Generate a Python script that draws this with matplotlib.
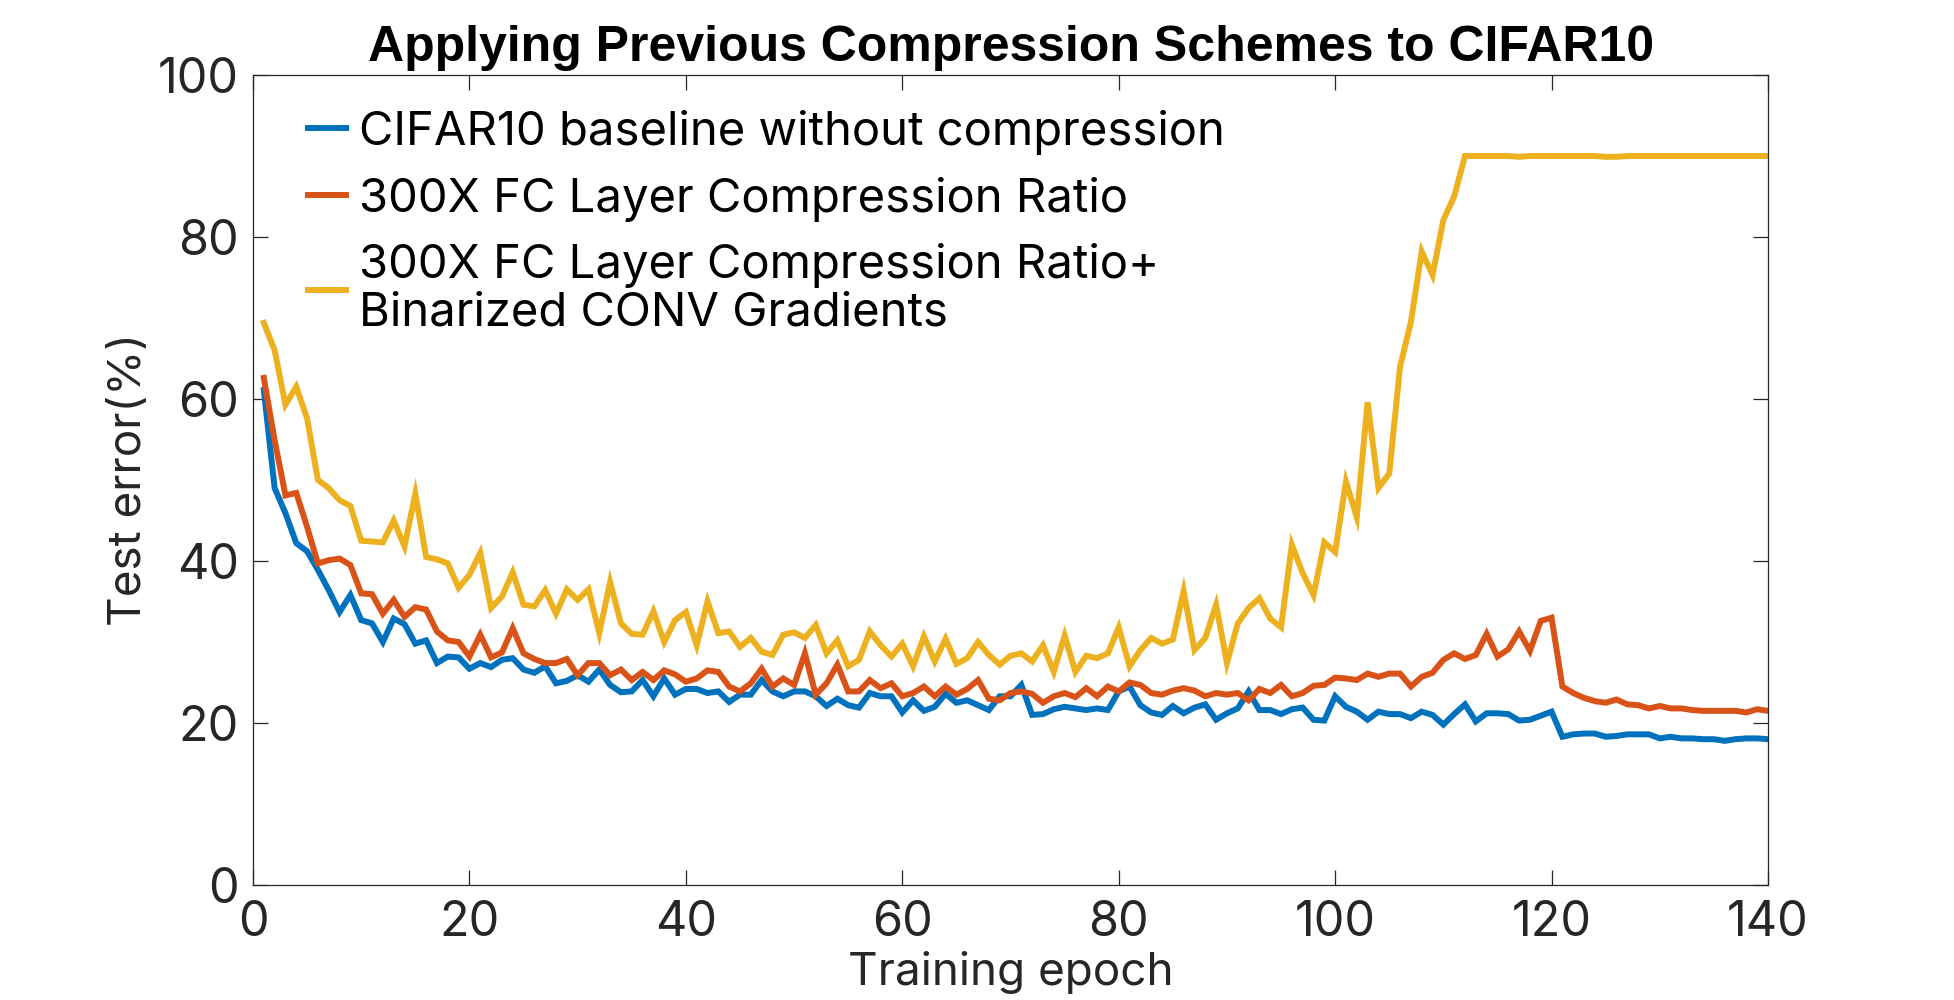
import numpy as np
import matplotlib
matplotlib.use("Agg")
import matplotlib.pyplot as plt

epochs = list(range(1, 141))

baseline = [
    61.1, 49.0, 45.9, 42.2, 41.2, 38.9, 36.4, 33.7, 35.8, 32.7,
    32.3, 30.0, 32.9, 32.2, 29.8, 30.2, 27.4, 28.2, 28.1, 26.7,
    27.4, 26.9, 27.8, 28.0, 26.6, 26.2, 27.0, 24.9, 25.2, 25.9,
    25.1, 26.6, 24.7, 23.8, 23.9, 25.3, 23.3, 25.5, 23.5, 24.2,
    24.2, 23.7, 23.9, 22.6, 23.5, 23.5, 25.3, 23.9, 23.3, 23.9,
    23.9, 23.3, 22.1, 23.0, 22.2, 21.9, 23.7, 23.3, 23.3, 21.3,
    22.8, 21.5, 22.0, 23.6, 22.5, 22.8, 22.2, 21.6, 23.3, 23.3,
    24.7, 21.0, 21.1, 21.7, 22.0, 21.8, 21.6, 21.8, 21.6, 23.9,
    24.5, 22.2, 21.3, 21.0, 22.1, 21.2, 21.9, 22.3, 20.4, 21.2,
    21.8, 23.9, 21.6, 21.6, 21.1, 21.7, 21.9, 20.4, 20.3, 23.3,
    22.0, 21.4, 20.4, 21.4, 21.1, 21.1, 20.6, 21.4, 21.0, 19.8,
    21.1, 22.3, 20.2, 21.2, 21.2, 21.1, 20.3, 20.4, 20.9, 21.4,
    18.3, 18.6, 18.7, 18.7, 18.3, 18.4, 18.6, 18.6, 18.6, 18.1,
    18.3, 18.1, 18.1, 18.0, 18.0, 17.8, 18.0, 18.1, 18.1, 18.0,
]

fc300 = [
    62.6, 54.9, 48.1, 48.4, 44.2, 39.7, 40.1, 40.3, 39.5, 36.0,
    35.9, 33.5, 35.2, 33.1, 34.3, 34.0, 31.3, 30.2, 30.0, 28.2,
    30.9, 28.1, 28.7, 31.7, 28.6, 27.9, 27.4, 27.4, 27.9, 25.9,
    27.4, 27.4, 25.9, 26.6, 25.3, 26.3, 25.3, 26.5, 26.0, 25.1,
    25.5, 26.5, 26.3, 24.5, 23.9, 24.9, 26.7, 24.5, 25.5, 24.7,
    28.6, 23.5, 24.9, 27.2, 23.9, 23.9, 25.3, 24.3, 24.9, 23.3,
    23.7, 24.5, 23.3, 24.5, 23.5, 24.2, 25.3, 23.0, 22.8, 23.7,
    23.9, 23.6, 22.5, 23.3, 23.7, 23.2, 24.3, 23.3, 24.5, 23.9,
    25.0, 24.7, 23.7, 23.5, 24.0, 24.3, 24.0, 23.3, 23.7, 23.5,
    23.7, 22.8, 24.2, 23.7, 24.7, 23.3, 23.7, 24.6, 24.7, 25.6,
    25.5, 25.3, 26.1, 25.7, 26.1, 26.1, 24.5, 25.7, 26.2, 27.8,
    28.6, 27.9, 28.4, 31.0, 28.2, 29.1, 31.3, 28.9, 32.6, 33.0,
    24.5, 23.7, 23.1, 22.7, 22.5, 22.9, 22.3, 22.2, 21.8, 22.1,
    21.8, 21.8, 21.6, 21.5, 21.5, 21.5, 21.5, 21.3, 21.7, 21.5,
]

fc300_bin = [
    69.4, 66.0, 59.3, 61.5, 57.6, 50.0, 49.0, 47.5, 46.8, 42.5,
    42.4, 42.3, 45.0, 41.8, 48.3, 40.5, 40.2, 39.7, 36.7, 38.3,
    41.0, 34.2, 35.6, 38.6, 34.6, 34.4, 36.4, 33.5, 36.5, 35.2,
    36.5, 31.1, 37.4, 32.3, 31.0, 30.9, 33.8, 30.0, 32.7, 33.7,
    29.6, 35.0, 31.1, 31.3, 29.4, 30.5, 28.8, 28.4, 30.9, 31.2,
    30.5, 32.1, 28.6, 30.2, 27.0, 27.8, 31.3, 29.6, 28.2, 29.8,
    27.0, 30.7, 27.6, 30.4, 27.3, 28.0, 30.0, 28.4, 27.2, 28.3,
    28.6, 27.6, 29.6, 26.3, 30.8, 26.3, 28.3, 28.0, 28.6, 31.8,
    27.0, 29.0, 30.5, 29.8, 30.3, 36.3, 29.0, 30.5, 34.6, 27.4,
    32.3, 34.2, 35.4, 32.9, 31.8, 42.0, 38.5, 35.8, 42.3, 41.1,
    49.8, 45.4, 59.6, 49.0, 50.8, 64.0, 69.5, 78.2, 75.3, 82.1,
    85.0, 90.0, 90.0, 90.0, 90.0, 90.0, 89.9, 90.0, 90.0, 90.0,
    90.0, 90.0, 90.0, 90.0, 89.9, 89.9, 90.0, 90.0, 90.0, 90.0,
    90.0, 90.0, 90.0, 90.0, 90.0, 90.0, 90.0, 90.0, 90.0, 90.0,
]

labels = [
    "CIFAR10 baseline without compression",
    "300X FC Layer Compression Ratio",
    "300X FC Layer Compression Ratio+\nBinarized CONV Gradients",
]
colors = ["#0072BD", "#D95319", "#EDB120"]
xticks = [0, 20, 40, 60, 80, 100, 120, 140]
yticks = [0, 20, 40, 60, 80, 100]

plt.rcParams["font.family"] = ["Inter", "DejaVu Sans"]
axcol = "#262626"

fig = plt.figure(figsize=(19.54, 10), dpi=100)
W, H = 1954, 1000
ax = fig.add_axes([253 / W, 115 / H, (1768 - 253) / W, (885 - 75) / H])

for ys, lab, c in zip([baseline, fc300, fc300_bin], labels, colors):
    ax.plot(epochs, ys, color=c, lw=4.3, label=lab, solid_joinstyle="miter")

ax.set_xlim(0, 140)
ax.set_ylim(0, 100)
ax.set_xticks(xticks)
ax.set_yticks(yticks)
ax.tick_params(axis="both", direction="in", length=11, width=0.9, color=axcol,
               labelcolor=axcol, labelsize=35, top=True, right=True)
ax.tick_params(axis="x", pad=10.5)
ax.tick_params(axis="y", pad=10)
for s in ax.spines.values():
    s.set_linewidth(0.9)
    s.set_color(axcol)

ax.set_xlabel("Training epoch", fontsize=33, color=axcol, labelpad=4)
ax.set_ylabel("Test error(%)", fontsize=33, color=axcol, labelpad=6)
ax.set_title("Applying Previous Compression Schemes to CIFAR10",
             fontsize=36, fontweight="bold", color="black", pad=10,
             family=["Liberation Sans", "DejaVu Sans"])

leg = ax.legend(loc="upper left", bbox_to_anchor=(308 / W, 1 - 110 / H),
                bbox_transform=fig.transFigure, frameon=False, fontsize=34,
                borderpad=0, borderaxespad=0, handlelength=0.8,
                handletextpad=0.27, labelspacing=0.46)
for t in leg.get_texts():
    t.set_color("black")
    t.set_linespacing(1.1)

fig.savefig("out.png", dpi=100)
